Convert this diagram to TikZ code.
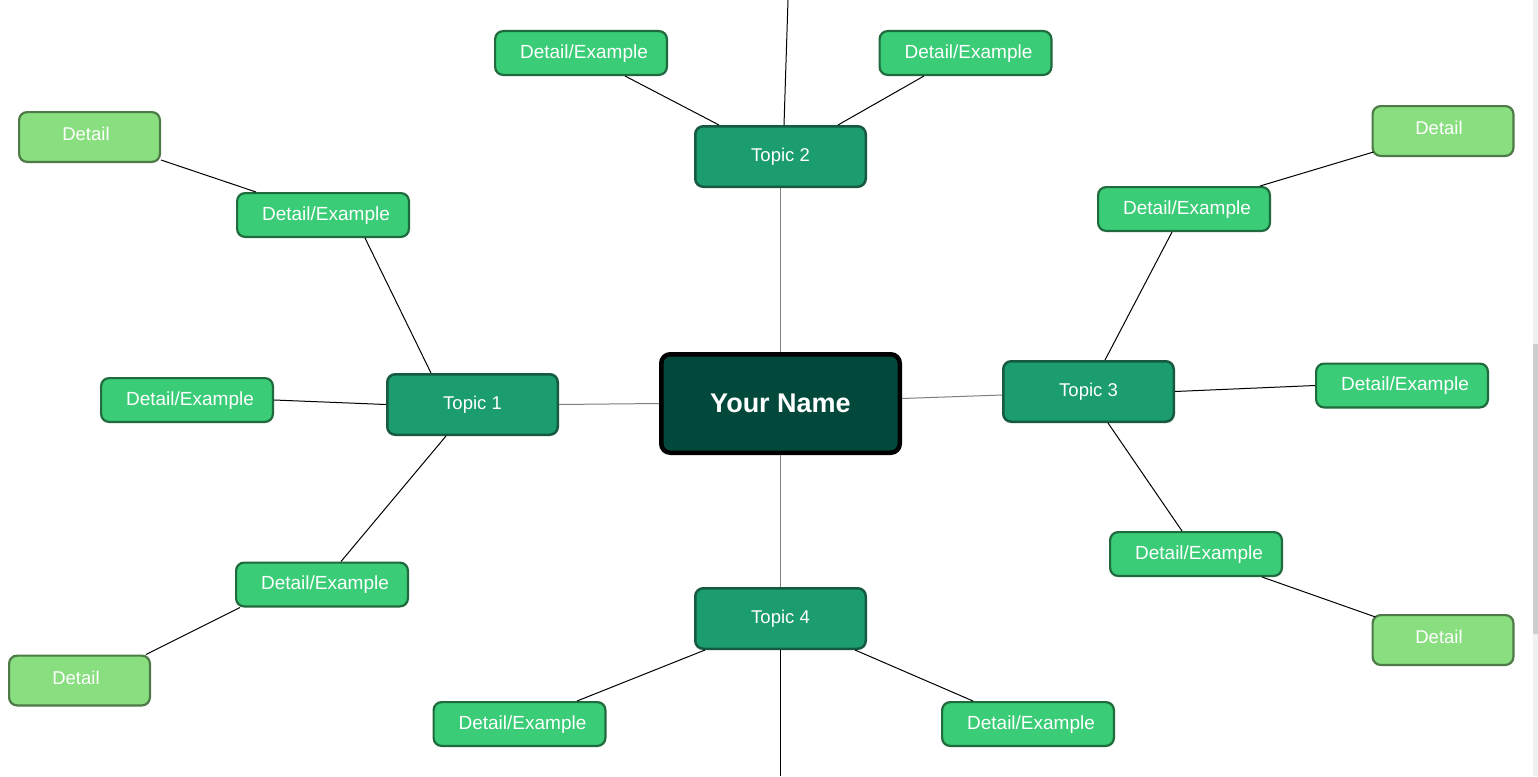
\documentclass[tikz,border=0pt]{standalone}
\usepackage{fontspec}
\setmainfont{Liberation Sans}
\usetikzlibrary{calc}
\definecolor{cfill}{HTML}{02493B}
\definecolor{tfill}{HTML}{1B9D6F}
\definecolor{tborder}{HTML}{165A40}
\definecolor{dfill}{HTML}{3ACC77}
\definecolor{dborder}{HTML}{1F6B3D}
\definecolor{lfill}{HTML}{89DF7F}
\definecolor{lborder}{HTML}{4D7A47}
\definecolor{connGray}{HTML}{7F7F7F}
\definecolor{trackGray}{HTML}{F0F0F0}
\definecolor{thumbGray}{HTML}{CDCDCD}
\tikzset{
  centerbox/.style={draw=black, line width=4.5pt, fill=cfill, rounded corners=9pt,
    minimum width=238.5pt, minimum height=98.5pt, inner sep=0pt, text=white,
    font=\fontsize{27}{30}\selectfont\bfseries},
  topicbox/.style={draw=tborder, line width=2.5pt, fill=tfill, rounded corners=8pt,
    minimum width=170.5pt, minimum height=60.5pt, inner sep=0pt, text=white,
    font=\fontsize{18.5}{22}\selectfont},
  debox/.style={draw=dborder, line width=2.2pt, fill=dfill, rounded corners=8pt,
    minimum width=171.8pt, minimum height=43.8pt, inner sep=0pt, text=white,
    font=\fontsize{19}{22}\selectfont},
  detext/.style={text=white, inner sep=0pt, font=\fontsize{19}{22}\selectfont},
  leafbox/.style={draw=lborder, line width=2.2pt, fill=lfill, rounded corners=8pt,
    minimum width=140.8pt, minimum height=49.8pt, inner sep=0pt},
  leaftext/.style={text=white, inner sep=0pt, font=\fontsize{18.5}{22}\selectfont},
  conn/.style={draw=black, line width=1pt},
  mainconn/.style={draw=connGray, line width=1pt},
}
\newcommand{\debox}[3]{%
  \node[debox] (#1) at (#2) {};
  \node[detext] at ([xshift=3pt,yshift=-0.5pt]#1.center) {#3};}
\begin{document}
\begin{tikzpicture}[x=1pt,y=-1pt]
\useasboundingbox[fill=white] (0,0) rectangle (1538,776);
% scrollbar
\fill[trackGray] (1533,0) rectangle (1538,776);
\fill[thumbGray] (1533,344) rectangle (1538,634);

% center and topics
\node[centerbox] (c) at (780.5,403.5) {Your Name};
\node[topicbox] (t1) at (472.5,404.5) {Topic 1};
\node[topicbox] (t2) at (780.5,156.5) {Topic 2};
\node[topicbox] (t3) at (1088.5,391.5) {Topic 3};
\node[topicbox] (t4) at (780.5,618.5) {Topic 4};

% detail/example
\debox{de1a}{323,215}{Detail/Example}
\debox{de1b}{187,400}{Detail/Example}
\debox{de1c}{322,584.5}{Detail/Example}
\debox{de2a}{581,53}{Detail/Example}
\debox{de2b}{965.5,53}{Detail/Example}
\debox{de3a}{1184,209}{Detail/Example}
\debox{de3b}{1402,385.5}{Detail/Example}
\debox{de3c}{1196,554}{Detail/Example}
\debox{de4a}{519.5,724}{Detail/Example}
\debox{de4b}{1028,724}{Detail/Example}

% details
\node[leafbox] (dt1) at (89.5,137) {};
\node[leaftext] at ([xshift=-3.5pt,yshift=3pt]dt1.center) {Detail};
\node[leafbox] (dt2) at (79.5,680.5) {};
\node[leaftext] at ([xshift=-3.5pt,yshift=3pt]dt2.center) {Detail};
\node[leafbox] (dt3) at (1443,131) {};
\node[leaftext] at ([xshift=-4pt,yshift=3pt]dt3.center) {Detail};
\node[leafbox] (dt4) at (1443,640) {};
\node[leaftext] at ([xshift=-4pt,yshift=3pt]dt4.center) {Detail};

% free ends
\coordinate (topend) at (788,0);
\coordinate (botend) at (780.5,776);

% center connectors
\draw[mainconn] (c.west) -- (t1.east);
\draw[mainconn] (c.north) -- (t2.south);
\draw[mainconn] ($(c.east)+(0,-5)$) -- ($(t3.west)+(0,3.5)$);
\draw[mainconn] (c.south) -- (t4.north);
\draw[conn] ($(t2.north)+(3.5,0)$) -- (topend);
\draw[conn] (t4.south) -- (botend);

% topic 1
\draw[conn] ($(t1.north)+(-41.5,0)$) -- ($(de1a.south)+(42,0)$);
\draw[conn] (t1.west) -- (de1b.east);
\draw[conn] ($(t1.south)+(-26.5,0)$) -- ($(de1c.north)+(19,0)$);
\draw[conn] ($(de1a.north)+(-67,0)$) -- ($(dt1.south east)+(0,-3)$);
\draw[conn] ($(de1c.south west)+(5,0)$) -- ($(dt2.north east)+(-5,0)$);

% topic 2
\draw[conn] ($(t2.north)+(-61.5,0)$) -- ($(de2a.south)+(44,0)$);
\draw[conn] ($(t2.north)+(57.5,0)$) -- ($(de2b.south)+(-41.5,0)$);

% topic 3
\draw[conn] ($(t3.north)+(16.5,0)$) -- ($(de3a.south)+(-12,0)$);
\draw[conn] (t3.east) -- (de3b.west);
\draw[conn] ($(t3.south)+(19.5,0)$) -- ($(de3c.north)+(-14,0)$);
\draw[conn] ($(de3a.north)+(76,0)$) -- ($(dt3.south west)+(2,-5)$);
\draw[conn] ($(de3c.south)+(66,0)$) -- ($(dt4.north west)+(4,3)$);

% topic 4
\draw[conn] ($(t4.south)+(-75.5,0)$) -- ($(de4a.north)+(57.5,0)$);
\draw[conn] ($(t4.south)+(74.5,0)$) -- ($(de4b.north)+(-55,0)$);
\end{tikzpicture}
\end{document}
